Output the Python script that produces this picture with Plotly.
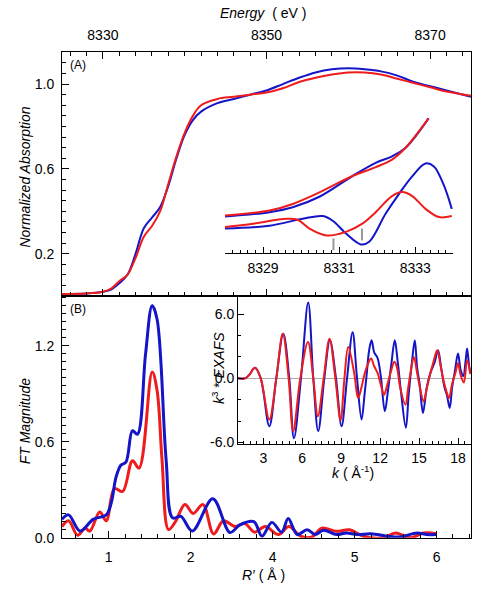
import plotly.graph_objects as go

W, H = 479, 601
def px(x): return x / W
def py(y): return 1 - y / H

BLUE = "#1414c8"
RED = "#ee1c1c"

# ---------------- Panel A: XANES ----------------
energy = [8325, 8328, 8330, 8331, 8332, 8333, 8334, 8335, 8336, 8337, 8338, 8339, 8340,
          8341, 8342, 8344, 8346, 8348, 8350, 8352, 8354, 8356, 8358, 8360, 8362, 8364,
          8366, 8368, 8370, 8372, 8375]
abs_blue = [0.01, 0.012, 0.02, 0.03, 0.06, 0.10, 0.20, 0.32, 0.37, 0.42, 0.52, 0.65, 0.76,
            0.83, 0.87, 0.91, 0.93, 0.95, 0.97, 1.00, 1.03, 1.055, 1.07, 1.075, 1.07, 1.06,
            1.04, 1.01, 0.99, 0.97, 0.94]
abs_red = [0.01, 0.012, 0.02, 0.035, 0.07, 0.10, 0.18, 0.28, 0.33, 0.40, 0.53, 0.66, 0.77,
           0.85, 0.90, 0.93, 0.94, 0.95, 0.96, 0.98, 1.01, 1.03, 1.045, 1.055, 1.055, 1.045,
           1.025, 1.005, 0.985, 0.965, 0.945]
energy_ticks = [8330, 8350, 8370]

# ---------------- Inset A: pre-edge (arbitrary units) ----------------
pe_e_up = [8328.00, 8329.17, 8329.78, 8330.48, 8331.35, 8331.96, 8332.39, 8332.74, 8333.35]
pe_up_blue = [0.373, 0.417, 0.467, 0.573, 0.783, 0.917, 0.983, 1.067, 1.367]
pe_up_red = [0.383, 0.433, 0.50, 0.617, 0.783, 0.873, 0.95, 1.067, 1.367]

pe_e_blue = [8328.00, 8329.17, 8330.04, 8330.57, 8330.83, 8331.18, 8331.57, 8331.79, 8332.22,
             8332.57, 8332.92, 8333.27, 8333.49, 8333.74, 8333.96]
pe_d_blue = [0.25, 0.28, 0.35, 0.377, 0.33, 0.20, 0.09, 0.117, 0.40, 0.60, 0.78, 0.91, 0.88,
             0.70, 0.45]
pe_e_red = [8328.00, 8328.74, 8329.61, 8329.91, 8330.22, 8330.66, 8331.18, 8331.61, 8331.96,
            8332.39, 8332.66, 8332.92, 8333.27, 8333.62, 8333.96]
pe_d_red = [0.267, 0.30, 0.35, 0.34, 0.25, 0.18, 0.217, 0.30, 0.417, 0.58, 0.62, 0.58, 0.45,
            0.367, 0.377]
pe_markers = [8330.85, 8331.60]
pe_ticks = [8329, 8331, 8333]

# ---------------- Panel B: FT magnitude ----------------
r_blue = [0.43, 0.51, 0.65, 0.81, 0.97, 1.03, 1.09, 1.15, 1.21, 1.29, 1.35, 1.45, 1.53, 1.59,
          1.70, 1.78, 1.88, 2.02, 2.27, 2.48, 2.60, 2.77, 2.87, 2.99, 3.11, 3.19, 3.30, 3.42,
          3.52, 3.62, 3.78, 3.90, 4.03, 4.20, 4.40, 4.56, 4.76, 4.88, 5.00]
ft_blue = [0.115, 0.143, 0.042, 0.115, 0.143, 0.216, 0.38, 0.454, 0.472, 0.669, 0.646, 1.15,
           1.45, 1.365, 0.49, 0.124, 0.134, 0.042, 0.243, 0.033, 0.08, 0.10, 0.01, 0.096,
           0.035, 0.12, 0.02, 0.05, 0.02, 0.047, 0.02, 0.03, 0.02, 0.025, 0.01, 0.005, 0.03,
           0.02, 0.02]
r_red = [0.43, 0.51, 0.62, 0.71, 0.77, 0.89, 0.97, 1.07, 1.17, 1.29, 1.37, 1.53, 1.59, 1.65,
         1.73, 1.81, 1.93, 2.03, 2.15, 2.28, 2.40, 2.54, 2.66, 2.78, 2.91, 3.07, 3.20, 3.34,
         3.48, 3.60, 3.78, 3.94, 4.10, 4.35, 4.50, 4.68, 4.84, 5.00]
ft_red = [0.07, 0.106, 0.015, 0.06, 0.042, 0.161, 0.106, 0.307, 0.289, 0.481, 0.435, 1.035,
          0.92, 0.49, 0.051, 0.097, 0.207, 0.152, 0.207, 0.024, 0.106, 0.07, 0.088, 0.035,
          0.07, 0.02, 0.07, 0.01, 0.005, 0.06, 0.04, 0.05, 0.01, 0.0, 0.03, 0.0, 0.03, 0.025]
r_tickvals = [1, 2, 3, 4, 5]
r_ticktext = ["1", "2", "4", "5", "6"]

# ---------------- Inset B: k^3 EXAFS ----------------
k_blue = [1.05, 1.6, 1.9, 2.36, 2.8, 3.46, 4.0, 4.54, 5.0, 5.36, 5.9, 6.46, 6.85, 7.23, 7.7,
          8.13, 8.6, 9.03, 9.45, 9.88, 10.2, 10.57, 10.8, 10.95, 11.15, 11.34, 11.55, 11.8,
          12.05, 12.36, 12.6, 12.85, 13.13, 13.35, 13.6, 13.98, 14.2, 14.45, 14.67, 14.85,
          15.05, 15.3, 15.6, 15.9, 16.2, 16.46, 16.7, 16.95, 17.15, 17.36, 17.55, 17.75, 18.0,
          18.2, 18.4, 18.6, 18.7, 18.85, 18.95]
x_blue = [0, 0, 0.3, 0.98, 0, -4.48, 0, 4.17, 0, -5.62, 0, 7.09, 0, -4.94, 0, 3.55, 0, -4.48,
          0, 4.31, 0.3, -3.86, -1.5, 0.2, 2.6, 3.55, 2.4, 1.9, 0.2, -3.09, -1.2, 1.2, 3.55,
          1.6, -1.2, -4.63, -1.5, 1.5, 3.55, 1.0, -0.6, -3.24, -0.8, 0.6, 1.5, 2.62, 1.0, -0.8,
          -1.6, -2.78, -0.8, 0.6, 2.31, 0.8, 0.2, 1.8, 2.78, 1.2, 0.5]
k_red = [1.05, 1.6, 1.9, 2.36, 2.8, 3.46, 4.0, 4.5, 4.95, 5.3, 5.85, 6.44, 6.85, 7.2, 7.65,
         8.1, 8.55, 8.95, 9.25, 9.54, 10.0, 10.3, 10.55, 10.8, 11.05, 11.3, 11.55, 11.8, 12.05,
         12.3, 12.55, 12.8, 13.1, 13.3, 13.55, 13.95, 14.15, 14.35, 14.6, 14.85, 15.05, 15.35,
         15.6, 15.85, 16.1, 16.4, 16.65, 16.9, 17.1, 17.3, 17.55, 17.8, 18.0, 18.2, 18.45,
         18.7, 18.95]
x_red = [0, 0, 0.3, 0.98, 0, -3.86, 0, 4.17, 0, -4.94, 0, 3.39, 0, -3.56, 0, 3.7, 0, -3.95,
         0, 2.93, 0.5, -1.85, -0.9, 0.4, 1.3, 1.85, 1.1, 0.5, -0.6, -1.55, -0.6, 0.5, 1.54,
         1.0, -0.9, -2.47, -1.0, 0.6, 2.0, 0.5, -0.8, -2.16, -0.9, 0.4, 1.5, 2.62, 1.2, -0.3,
         -1.2, -1.85, -0.5, 0.5, 1.4, 0.3, -0.4, 1.7, 0.4]

fig = go.Figure()
sp = dict(shape="spline", smoothing=1.0)

fig.add_trace(go.Scatter(x=energy, y=abs_blue, xaxis="x", yaxis="y", mode="lines",
                         line=dict(color=BLUE, width=2, **sp)))
fig.add_trace(go.Scatter(x=energy, y=abs_red, xaxis="x", yaxis="y", mode="lines",
                         line=dict(color=RED, width=2, **sp)))

for xs, ys, c in [(pe_e_up, pe_up_blue, BLUE), (pe_e_up, pe_up_red, RED),
                  (pe_e_blue, pe_d_blue, BLUE), (pe_e_red, pe_d_red, RED)]:
    fig.add_trace(go.Scatter(x=xs, y=ys, xaxis="x3", yaxis="y3", mode="lines",
                             line=dict(color=c, width=2, **sp)))

fig.add_trace(go.Scatter(x=r_red, y=ft_red, xaxis="x2", yaxis="y2", mode="lines",
                         line=dict(color=RED, width=3, **sp)))
fig.add_trace(go.Scatter(x=r_blue, y=ft_blue, xaxis="x2", yaxis="y2", mode="lines",
                         line=dict(color=BLUE, width=3, **sp)))

fig.add_trace(go.Scatter(x=k_blue, y=x_blue, xaxis="x4", yaxis="y4", mode="lines",
                         line=dict(color=BLUE, width=2, **sp)))
fig.add_trace(go.Scatter(x=k_red, y=x_red, xaxis="x4", yaxis="y4", mode="lines",
                         line=dict(color=RED, width=2, **sp)))

FONT = "Liberation Sans, Arial, sans-serif"
tickfont = dict(family=FONT, size=14, color="black")
axcommon = dict(showline=True, linecolor="black", linewidth=1, ticks="inside",
                tickcolor="black", showgrid=False, zeroline=False, tickfont=tickfont)
def minor(d, l=4):
    return dict(dtick=d, ticklen=l, ticks="inside", tickcolor="black")

xA = [px(62), px(471)]
fig.update_layout(
    width=W, height=H, margin=dict(l=0, r=0, t=0, b=0),
    paper_bgcolor="white", plot_bgcolor="rgba(0,0,0,0)", showlegend=False,
    hovermode=False,
    xaxis=dict(domain=xA, anchor="y", side="top", range=[8325, 8375],
               tickvals=energy_ticks, ticklen=7, ticklabelstandoff=6,
               minor=minor(2), mirror="ticks", **axcommon),
    yaxis=dict(domain=[py(300), py(53)], anchor="x", range=[0, 1.15],
               tickvals=[0.2, 0.6, 1.0], tickformat=".1f",
               ticklen=7, ticklabelstandoff=4, minor=minor(0.05), mirror=True, **axcommon),
    xaxis2=dict(domain=xA, anchor="y2", range=[0.43, 5.42], tickvals=r_tickvals,
                ticktext=r_ticktext, ticklen=7, ticklabelstandoff=6,
                minor=minor(0.2), mirror=True, **axcommon),
    yaxis2=dict(domain=[py(545), py(300)], anchor="x2", range=[0, 1.51],
                tickvals=[0, 0.6, 1.2], tickformat=".1f",
                ticklen=7, ticklabelstandoff=4, minor=minor(0.05), mirror=True, **axcommon),
    xaxis3=dict(domain=[px(225), px(453.3)], anchor="y3", range=[8328, 8334],
                tickvals=pe_ticks, ticklen=6,
                ticklabelstandoff=2, minor=minor(0.2, 3), **axcommon),
    yaxis3=dict(domain=[py(256.7), py(96.7)], anchor="x3", range=[0, 1.6], visible=False),
    xaxis4=dict(domain=[px(238), px(471)], anchor="y4", range=[1.05, 19],
                tickvals=[3, 6, 9, 12, 15, 18], ticklen=6, ticklabelstandoff=1,
                minor=minor(0.5, 3), **axcommon),
    yaxis4=dict(domain=[py(450), py(300)], anchor="x4", range=[-6.15, 7.7],
                tickvals=[-6, 0, 6], ticktext=["-6.0", "0.0", "6.0"], ticklen=6,
                minor=minor(2, 3), showline=True, linecolor="black", linewidth=1,
                ticks="inside", tickcolor="black", showgrid=False, zeroline=True,
                zerolinecolor="#aaaaaa", zerolinewidth=1, tickfont=tickfont),
)

# pre-edge markers
for xm, y0, y1 in [(pe_markers[0], 0.03, 0.15), (pe_markers[1], 0.13, 0.25)]:
    fig.add_shape(type="line", xref="x3", yref="y3", x0=xm, x1=xm, y0=y0, y1=y1,
                  line=dict(color="#999999", width=2))

def note(x, y, text, size=14, angle=0):
    fig.add_annotation(x=px(x), y=py(y), xref="paper", yref="paper", text=text,
                       textangle=angle, xanchor="center", yanchor="middle",
                       showarrow=False, font=dict(family=FONT, size=size, color="black"))

note(263, 13, "<i>Energy</i>  ( eV )")
note(25, 180, "<i>Normalized Absorption</i>", angle=-90)
note(25, 427, "<i>FT Magnitude</i>", angle=-90)
note(263, 583, "<i>R′</i> ( Å )")
note(78, 66, "(A)", size=12)
note(78, 313, "(B)", size=12)
note(218, 373, "<i>k</i><sup>3</sup> * <i>EXAFS</i>", angle=-90)
note(353, 478, "<i>k</i> ( Å<sup>-1</sup>)")

fig.write_html("out.html", config={"displayModeBar": False, "staticPlot": True},
               post_script="document.body.style.margin='0px';"
                           "document.documentElement.style.overflow='hidden';")
